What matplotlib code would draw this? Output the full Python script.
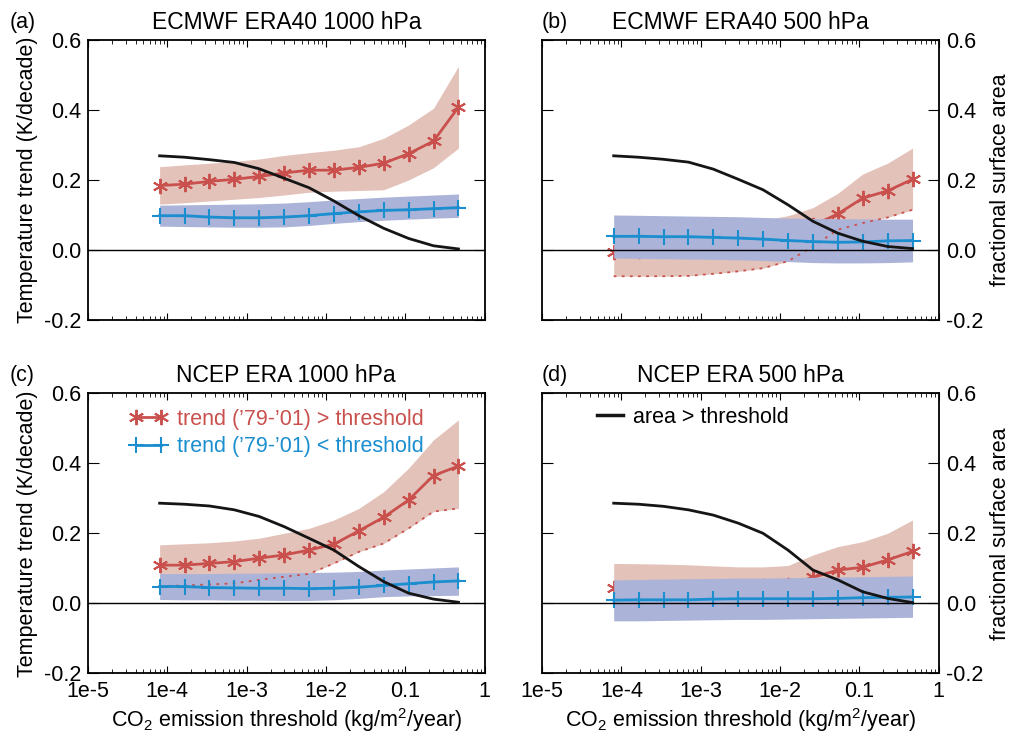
import matplotlib
matplotlib.use("Agg")
import matplotlib.pyplot as plt
from matplotlib.lines import Line2D

plt.rcParams["font.family"] = ["Liberation Sans", "DejaVu Sans"]
plt.rcParams["mathtext.fontset"] = "custom"
plt.rcParams["mathtext.rm"] = "Liberation Sans"

# CO2 emission thresholds (kg/m2/year) at the plotted markers
thresholds = [8.0e-5, 1.65e-4, 3.4e-4, 7.0e-4, 1.44e-3, 2.97e-3, 6.1e-3,
              1.26e-2, 2.6e-2, 5.35e-2, 0.110, 0.227, 0.468]

# (a) ECMWF ERA40 1000 hPa
red_a = [0.184, 0.188, 0.196, 0.202, 0.210, 0.220, 0.228, 0.228, 0.236, 0.248, 0.275, 0.311, 0.408]
red_hi_a = [0.238, 0.243, 0.248, 0.253, 0.260, 0.270, 0.278, 0.285, 0.295, 0.319, 0.357, 0.405, 0.525]
red_lo_a = [0.131, 0.135, 0.140, 0.145, 0.150, 0.157, 0.165, 0.168, 0.170, 0.172, 0.200, 0.235, 0.291]
blue_a = [0.098, 0.098, 0.094, 0.092, 0.092, 0.094, 0.098, 0.104, 0.109, 0.113, 0.115, 0.118, 0.121]
blue_hi_a = [0.128, 0.129, 0.130, 0.131, 0.132, 0.134, 0.138, 0.143, 0.147, 0.151, 0.154, 0.157, 0.160]
blue_lo_a = [0.068, 0.067, 0.066, 0.065, 0.065, 0.066, 0.070, 0.076, 0.081, 0.085, 0.088, 0.091, 0.093]
area_a = [0.269, 0.265, 0.258, 0.250, 0.232, 0.205, 0.178, 0.140, 0.098, 0.062, 0.033, 0.012, 0.003]

# (b) ECMWF ERA40 500 hPa
red_b = [-0.007, -0.002, 0.003, 0.008, 0.013, 0.018, 0.025, 0.040, 0.070, 0.103, 0.148, 0.169, 0.202]
red_hi_b = [0.060, 0.062, 0.064, 0.066, 0.070, 0.076, 0.085, 0.098, 0.121, 0.162, 0.217, 0.248, 0.291]
red_lo_b = [-0.075, -0.075, -0.075, -0.074, -0.068, -0.061, -0.052, -0.032, 0.010, 0.058, 0.077, 0.093, 0.115]
blue_b = [0.039, 0.039, 0.038, 0.038, 0.036, 0.034, 0.031, 0.027, 0.024, 0.022, 0.023, 0.026, 0.027]
blue_hi_b = [0.100, 0.099, 0.098, 0.097, 0.096, 0.095, 0.093, 0.091, 0.090, 0.089, 0.089, 0.088, 0.088]
blue_lo_b = [-0.023, -0.024, -0.025, -0.026, -0.027, -0.028, -0.030, -0.033, -0.036, -0.037, -0.037, -0.036, -0.034]
area_b = [0.269, 0.265, 0.259, 0.251, 0.231, 0.202, 0.172, 0.129, 0.082, 0.048, 0.025, 0.010, 0.004]

# (c) NCEP ERA 1000 hPa
red_c = [0.109, 0.109, 0.114, 0.119, 0.129, 0.138, 0.152, 0.169, 0.207, 0.246, 0.295, 0.365, 0.392]
red_hi_c = [0.167, 0.170, 0.173, 0.178, 0.186, 0.200, 0.214, 0.238, 0.271, 0.319, 0.386, 0.467, 0.524]
red_lo_c = [0.049, 0.051, 0.054, 0.057, 0.067, 0.076, 0.084, 0.114, 0.147, 0.171, 0.214, 0.262, 0.271]
blue_c = [0.048, 0.048, 0.045, 0.044, 0.043, 0.043, 0.042, 0.043, 0.046, 0.051, 0.056, 0.061, 0.064]
blue_hi_c = [0.085, 0.085, 0.085, 0.086, 0.086, 0.087, 0.088, 0.089, 0.091, 0.095, 0.098, 0.101, 0.104]
blue_lo_c = [0.011, 0.010, 0.010, 0.009, 0.009, 0.008, 0.008, 0.010, 0.014, 0.019, 0.021, 0.022, 0.023]
area_c = [0.286, 0.283, 0.278, 0.267, 0.248, 0.219, 0.186, 0.152, 0.105, 0.062, 0.029, 0.012, 0.003]

# (d) NCEP ERA 500 hPa
red_d = [0.045, 0.045, 0.045, 0.046, 0.046, 0.047, 0.049, 0.052, 0.074, 0.095, 0.103, 0.124, 0.148]
red_hi_d = [0.114, 0.113, 0.112, 0.110, 0.107, 0.104, 0.104, 0.108, 0.138, 0.162, 0.176, 0.200, 0.238]
red_lo_d = [0.000, 0.000, 0.000, 0.000, 0.000, 0.005, 0.010, 0.020, 0.030, 0.040, 0.050, 0.060, 0.065]
blue_d = [0.009, 0.010, 0.010, 0.010, 0.012, 0.013, 0.013, 0.013, 0.013, 0.014, 0.016, 0.017, 0.018]
blue_hi_d = [0.067, 0.068, 0.069, 0.070, 0.071, 0.072, 0.072, 0.073, 0.074, 0.075, 0.076, 0.077, 0.078]
blue_lo_d = [-0.050, -0.050, -0.049, -0.048, -0.047, -0.046, -0.046, -0.045, -0.044, -0.043, -0.042, -0.041, -0.040]
area_d = [0.286, 0.283, 0.277, 0.267, 0.252, 0.229, 0.200, 0.152, 0.095, 0.067, 0.033, 0.014, 0.002]

titles = ["ECMWF ERA40 1000 hPa", "ECMWF ERA40 500 hPa", "NCEP ERA 1000 hPa", "NCEP ERA 500 hPa"]
tags = ["(a)", "(b)", "(c)", "(d)"]
xtick_vals = [1e-5, 1e-4, 1e-3, 1e-2, 0.1, 1]
xtick_labels = ["1e-5", "1e-4", "1e-3", "1e-2", "0.1", "1"]
ytick_vals = [-0.2, 0.0, 0.2, 0.4, 0.6]

panels = [
    (red_a, red_hi_a, red_lo_a, blue_a, blue_hi_a, blue_lo_a, area_a, False),
    (red_b, red_hi_b, red_lo_b, blue_b, blue_hi_b, blue_lo_b, area_b, True),
    (red_c, red_hi_c, red_lo_c, blue_c, blue_hi_c, blue_lo_c, area_c, True),
    (red_d, red_hi_d, red_lo_d, blue_d, blue_hi_d, blue_lo_d, area_d, False),
]

RED = "#c9504d"
RED_FILL = "#e3c2ba"
BLUE = "#1b8ed0"
BLUE_FILL = "#abb4d8"
BLACK = "#151515"
ASTER = (6, 2, 0)
FS = 15.5

fig = plt.figure(figsize=(10.17, 7.37), dpi=100)
positions = [(0.0865, 0.5658), (0.533, 0.5658), (0.0865, 0.0864), (0.533, 0.0864)]

for i, (pos, data) in enumerate(zip(positions, panels)):
    red, red_hi, red_lo, blue, blue_hi, blue_lo, area, dotted = data
    ax = fig.add_axes([pos[0], pos[1], 0.390, 0.380])

    # red band and line sit under the opaque blue band
    ax.fill_between(thresholds, red_lo, red_hi, color=RED_FILL, lw=0, zorder=1)
    ax.plot(thresholds, red, color=RED, lw=2, marker=ASTER, ms=11, mew=1.4, zorder=2)
    ax.fill_between(thresholds, blue_lo, blue_hi, color=BLUE_FILL, lw=0, zorder=3)
    if dotted:
        ax.plot(thresholds, red_lo, color=RED, lw=1.3, ls=(0, (1.5, 3)), zorder=4)
    ax.plot(thresholds, blue, color=BLUE, lw=2, marker="+", ms=12, mew=1.5, zorder=4)
    ax.axhline(0, color="k", lw=1, zorder=4.5)
    ax.plot(thresholds, area, color=BLACK, lw=2, zorder=5)

    ax.set_xscale("log")
    ax.set_xlim(1e-5, 1)
    ax.set_ylim(-0.2, 0.6)
    ax.set_xticks(xtick_vals)
    ax.set_yticks(ytick_vals)
    ax.set_yticklabels(["-0.2", "0.0", "0.2", "0.4", "0.6"])
    ax.tick_params(which="both", direction="in", top=True, right=True, labelsize=FS)
    ax.tick_params(axis="x", which="major", length=5, pad=5.5)
    ax.tick_params(axis="x", which="minor", length=3)
    ax.tick_params(axis="y", which="major", length=8, pad=5)
    for sp in ax.spines.values():
        sp.set_linewidth(1.3)

    if i >= 2:
        ax.set_xticklabels(xtick_labels)
        ax.set_xlabel("CO$_\\mathregular{2}$ emission threshold (kg/m$^\\mathregular{2}$/year)",
                      fontsize=FS, labelpad=3)
    else:
        ax.tick_params(axis="x", labelbottom=False)

    if i % 2 == 0:
        ax.set_ylabel("Temperature trend (K/decade)", fontsize=FS, labelpad=4)
        tag_x = -0.197
    else:
        ax.tick_params(axis="y", labelleft=False, labelright=True)
        ax.yaxis.set_label_position("right")
        ax.set_ylabel("fractional surface area", fontsize=FS, labelpad=5)
        tag_x = 0.0

    ax.set_title(titles[i], fontsize=16.5, pad=8)
    ax.text(tag_x, 1.064, tags[i], transform=ax.transAxes, fontsize=FS,
            ha="left", va="center")

    if i == 2:
        h = [Line2D([], [], color=RED, lw=2, marker=ASTER, ms=11, mew=1.4),
             Line2D([], [], color=BLUE, lw=2, marker="+", ms=12, mew=1.5)]
        leg = ax.legend(h, ["trend (\u201979-\u201901) > threshold",
                            "trend (\u201979-\u201901) < threshold"],
                        loc="upper left", bbox_to_anchor=(0.105, 0.945), frameon=False,
                        fontsize=FS, numpoints=2, handlelength=1.75,
                        handletextpad=0.45, labelspacing=0.3, borderpad=0, borderaxespad=0)
        for t, c in zip(leg.get_texts(), [RED, BLUE]):
            t.set_color(c)
    if i == 3:
        h = [Line2D([], [], color=BLACK, lw=2.5)]
        ax.legend(h, ["area > threshold"], loc="upper left", bbox_to_anchor=(0.138, 0.952),
                  frameon=False, fontsize=FS, handlelength=1.2, handletextpad=0.5,
                  borderpad=0, borderaxespad=0)

fig.savefig("out.png", dpi=100)
